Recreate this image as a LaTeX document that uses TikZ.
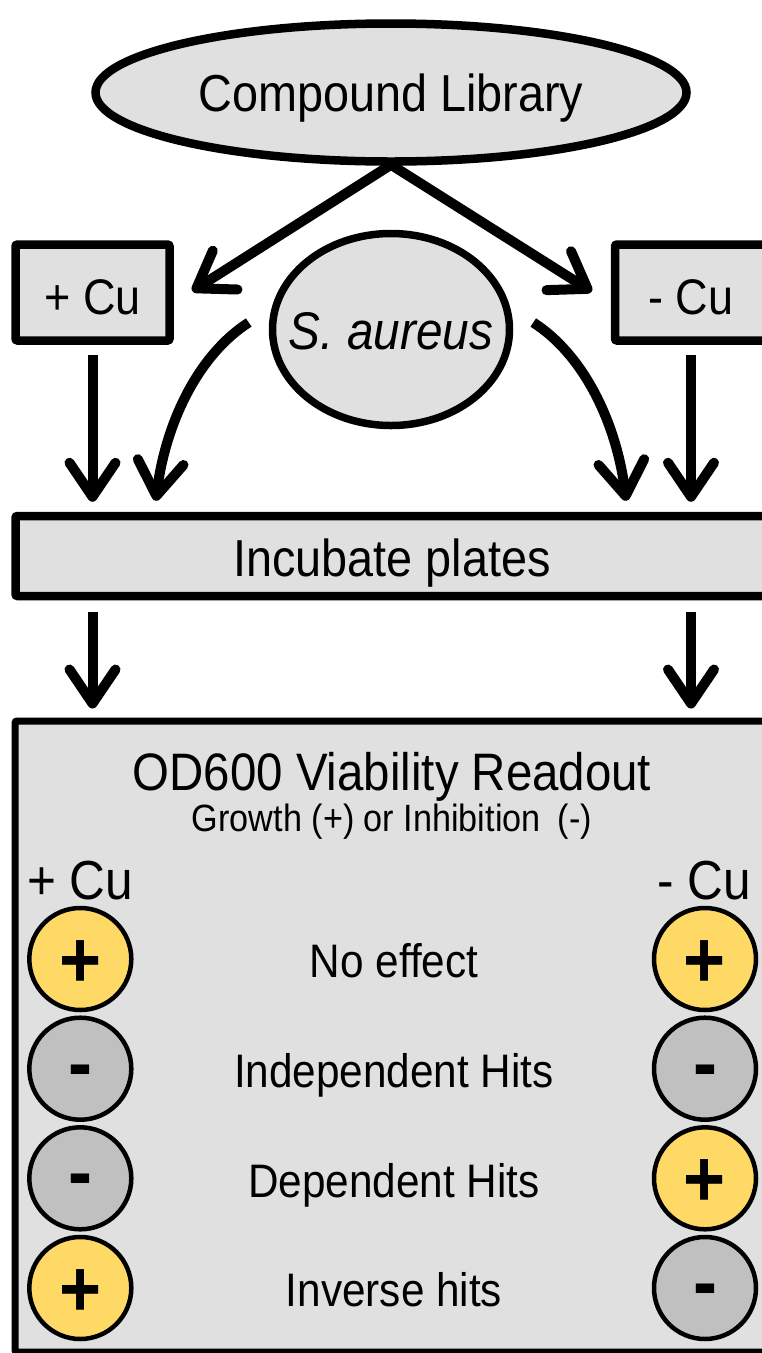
\documentclass[tikz,border=0pt]{standalone}
\usepackage{fontspec}
\setmainfont{Liberation Sans}[FakeStretch=0.9]
\usetikzlibrary{shapes.geometric,arrows.meta,calc}
\definecolor{boxgray}{RGB}{224,224,224}
\definecolor{cgray}{RGB}{192,192,192}
\definecolor{cyellow}{RGB}{255,217,102}
\newcommand\myfs[1]{\fontsize{#1}{#1}\selectfont}
\begin{document}
\begin{tikzpicture}[x=1pt,y=-1pt,
  box/.style={draw=black, fill=boxgray, line width=8.5pt, rounded corners=2pt, inner sep=0pt},
  oval/.style={ellipse, draw=black, fill=boxgray, line width=8.5pt, inner sep=0pt},
  arr/.style={line width=10pt, -{Straight Barb[length=34pt,width=46pt,line cap=round,line join=round]}},
  sign/.style={circle, draw=black, line width=4.5pt, minimum size=102pt, inner sep=0pt, font=\myfs{80}\bfseries, text depth=0pt},
  yc/.style={sign, fill=cyellow, text height=56pt},
  gc/.style={sign, fill=cgray, text height=43pt},
  lab/.style={anchor=base, inner sep=0pt}
]
\useasboundingbox (0,0) rectangle (762,1353);
\clip (0,0) rectangle (762,1353);

% top flow
\node[oval, minimum width=591pt, minimum height=138pt, font=\myfs{52}, text height=37pt, text depth=0pt] (lib) at (391,92.5) {Compound Library};
\node[box, minimum width=154pt, minimum height=96pt, font=\myfs{50}, text height=44pt, text depth=0pt] (plus) at (92.5,292.5) {+ Cu};
\node[box, minimum width=152pt, minimum height=96pt, font=\myfs{50}, text height=44pt, text depth=0pt] (minus) at (691,292.5) {- Cu};
\node[oval, line width=7.5pt, minimum width=237pt, minimum height=192pt] (sa) at (391,329.5) {};
\node[lab, font=\myfs{53}\itshape] (satext) at (391,349) {S. aureus};
\node[box, minimum width=753pt, minimum height=80pt, font=\myfs{52}, text height=41pt, text depth=0pt] (inc) at (392,556) {Incubate plates};
\node[box, line width=7pt, minimum width=754pt, minimum height=631pt] (od) at (392,1036.5) {};

% connectors
\draw[arr] ($(lib.south)+(0,-1)$) -- ($(plus.east)+(18.5,-1.5)$);
\draw[arr] ($(lib.south)+(0,-1)$) -- ($(minus.west)+(-19,-1)$);
\draw[arr] ($(plus.south)+(0,10.5)$) -- ($(plus.south |- inc.north)+(0,-10)$);
\draw[arr] ($(minus.south)+(0,10.5)$) -- ($(minus.south |- inc.north)+(0,-10)$);
\draw[arr] ($(sa.west)+(-20,-7)$) .. controls +(-50,32) and +(10,-79) .. ($(inc.north west)+(144.5,-11)$);
\draw[arr] ($(sa.east)+(20,-7)$) .. controls +(50,32) and +(-10,-79) .. ($(inc.north east)+(-146.5,-11)$);
\draw[arr] ($(plus.south |- inc.south)+(0,12)$) -- ($(plus.south |- od.north)+(0,-9)$);
\draw[arr] ($(minus.south |- inc.south)+(0,12)$) -- ($(minus.south |- od.north)+(0,-9)$);

% readout box contents
\node[lab, font=\myfs{52.7}] (title) at (392,790.9) {OD600 Viability Readout};
\node[lab, font=\myfs{38}] (sub) at (392,831.6) {Growth (+) or Inhibition\hspace{0.45em}(-)};
\node[lab, font=\myfs{55}] (cul) at (80,899.7) {+ Cu};
\node[lab, font=\myfs{55}] (cur) at (704,899.7) {- Cu};

\node[yc] (r1l) at (80.3,959) {+};
\node[yc] (r1r) at (705,959) {+};
\node[lab, font=\myfs{47}] (l1) at (394,977.8) {No effect};

\node[gc] (r2l) at (80.3,1068.7) {-};
\node[gc] (r2r) at (705,1068.7) {-};
\node[lab, font=\myfs{47}] (l2) at (394,1087.5) {Independent Hits};

\node[gc] (r3l) at (80.3,1178.3) {-};
\node[yc] (r3r) at (705,1178.3) {+};
\node[lab, font=\myfs{47}] (l3) at (394,1197.1) {Dependent Hits};

\node[yc] (r4l) at (80.3,1288) {+};
\node[gc] (r4r) at (705,1288) {-};
\node[lab, font=\myfs{47}] (l4) at (394,1306.8) {Inverse hits};
\end{tikzpicture}
\end{document}
